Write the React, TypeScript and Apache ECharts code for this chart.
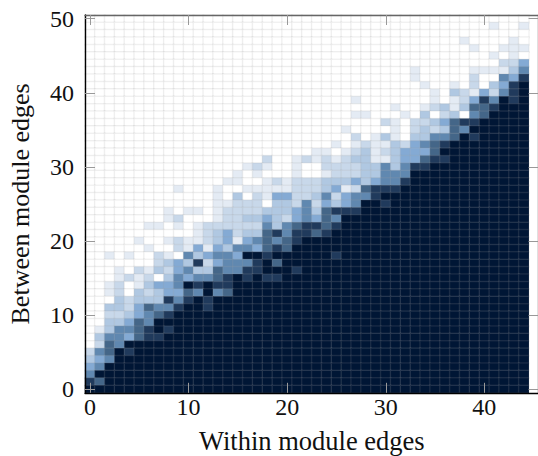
import React, { useEffect, useRef } from "react";
import * as echarts from "echarts";

// Shade level of every cell, first line = y 50, last line = y 0; groups of 5 columns.
const cellRows: string[] = [
  "00000 00000 00000 00000 00000 00000 00000 00000 00000", // 50
  "00000 00000 00000 00000 00000 00000 00000 00000 01001", // 49
  "00000 00000 00000 00000 00000 00000 00000 00000 00000", // 48
  "00000 00000 00000 00000 00000 00000 00000 00010 00010", // 47
  "00000 00000 00000 00000 00000 00000 00000 00001 00111", // 46
  "00000 00000 00000 00000 00000 00000 00000 00000 01010", // 45
  "00000 00000 00000 00000 00000 00000 00000 00000 00224", // 44
  "00000 00000 00000 00000 00000 00000 00010 00001 11135", // 43
  "00000 00000 00000 00000 00000 00000 00010 00002 00547", // 42
  "00000 00000 00000 00000 00000 00000 00001 00102 03478", // 41
  "00000 00000 00000 00000 00000 00000 00000 10321 42578", // 40
  "00000 00000 00000 00000 00000 00100 00000 10124 75878", // 39
  "00000 00000 00000 00000 00000 00000 01001 23136 67888", // 38
  "00000 00000 00000 00000 00000 00110 00103 02305 68888", // 37
  "00000 00000 00000 00000 00000 00000 21022 34677 88888", // 36
  "00000 00000 00000 00000 00000 01000 01023 23658 88888", // 35
  "00000 00000 00000 00000 00000 00201 31033 55687 88888", // 34
  "00000 00000 00000 00000 00000 10121 13245 67888 88888", // 33
  "00000 00000 00000 00000 00011 01231 23444 68888 88888", // 32
  "00000 00000 00000 00020 01212 12331 13446 77888 88888", // 31
  "00000 00000 00000 01210 01002 22233 53577 88888 88888", // 30
  "00000 00000 00000 10100 01001 22233 55588 88888 88888", // 29
  "00000 00000 00001 10012 12223 33434 55788 88888 88888", // 28
  "00000 00001 00010 01111 12223 41267 77888 88888 88888", // 27
  "00000 00000 00010 30214 42235 24557 88888 88888 88888", // 26
  "00000 00000 00011 22203 32524 34588 78888 88888 88888", // 25
  "00000 00010 11012 22233 34536 77788 88888 88888 88888", // 24
  "00000 00012 00012 23343 24546 58888 88888 88888 88888", // 23
  "00000 01101 01222 22253 56776 78888 88888 88888 88888", // 22
  "00000 00000 01234 23367 57767 88888 88888 88888 88888", // 21
  "00000 10012 11234 14565 67888 88888 88888 88888 88888", // 20
  "00000 01002 14143 55467 68888 88888 88888 88888 88888", // 19
  "00101 00210 53455 48878 88888 78888 88888 88888 88888", // 18
  "00000 00234 37245 55786 88888 88888 88888 88888 88888", // 17
  "00010 21324 53365 57788 87888 88888 88888 88888 88888", // 16
  "00012 12035 45567 87877 88888 88888 88888 88888 88888", // 15
  "00120 13445 87877 88888 88888 88888 88888 88888 88888", // 14
  "00120 32344 65856 88888 88888 88888 88888 88888 88888", // 13
  "00032 33375 78788 88888 88888 88888 88888 88888 88888", // 12
  "00332 46557 88788 88888 88888 88888 88888 88888 88888", // 11
  "00223 45678 88888 88888 88888 88888 88888 88888 88888", // 10
  "00334 65888 88888 88888 88888 88888 88888 88888 88888", // 9
  "01355 67878 88888 88888 88888 88888 88888 88888 88888", // 8
  "03554 67788 88888 88888 88888 88888 88888 88888 88888", // 7
  "02658 88888 88888 88888 88888 88888 88888 88888 88888", // 6
  "25687 88888 88888 88888 88888 88888 88888 88888 88888", // 5
  "34588 88888 88888 88888 88888 88888 88888 88888 88888", // 4
  "45888 88888 88888 88888 88888 88888 88888 88888 88888", // 3
  "58888 88888 88888 88888 88888 88888 88888 88888 88888", // 2
  "76888 88888 88888 88888 88888 88888 88888 88888 88888", // 1
  "88888 88888 88888 88888 88888 88888 88888 88888 88888", // 0
];
const shades = ["#ffffff", "#e4ebf4", "#c8d8ea", "#b0c8e2", "#84aad4", "#6088b0", "#446688", "#203a5c", "#001635"];
const xCategories = Array.from({ length: 46 }, (_, i) => String(i));
const yCategories = Array.from({ length: 51 }, (_, i) => String(i));
const xTitle = "Within module edges";
const yTitle = "Between module edges";

const FONT = "'Liberation Serif'";
const isTen = (_: number, v: string) => Number(v) % 10 === 0;

export default function App() {
  const ref = useRef<HTMLDivElement>(null);
  useEffect(() => {
    if (!ref.current) return;
    const chart = echarts.init(ref.current, undefined, { renderer: "svg" });
    const cells: number[][] = [];
    cellRows.forEach((row, i) => {
      const y = 50 - i;
      row.replace(/ /g, "").split("").forEach((d, x) => cells.push([x, y, Number(d)]));
    });
    const tick = () => ({
      show: true,
      inside: true,
      length: 10,
      alignWithLabel: true,
      interval: isTen,
      lineStyle: { color: "#999999", width: 1 },
    });
    chart.setOption({
      animation: false,
      backgroundColor: "#ffffff",
      grid: { left: 85, top: 15, width: 453.6, height: 377.8, containLabel: false, outerBoundsMode: "none" },
      visualMap: { show: false, type: "continuous", min: 0, max: 8, dimension: 2, inRange: { color: shades }, seriesIndex: 0 },
      xAxis: [
        {
          type: "category", data: xCategories, position: "bottom", z: 10,
          axisLine: { show: true, lineStyle: { color: "#000000", width: 1.4 } },
          axisTick: tick(),
          axisLabel: { interval: isTen, margin: 2, fontFamily: FONT, fontSize: 24, color: "#111111" },
          splitLine: { show: false },
          name: xTitle, nameLocation: "middle", nameGap: 35,
          nameTextStyle: { fontFamily: FONT, fontSize: 26.5, color: "#111111" },
        },
        {
          type: "category", data: xCategories, position: "top", z: 10,
          axisLine: { show: true, lineStyle: { color: "#666666", width: 1.4 } },
          axisTick: tick(),
          axisLabel: { show: false },
          splitLine: { show: false },
        },
      ],
      yAxis: [
        {
          type: "category", data: yCategories, position: "left", z: 10,
          axisLine: { show: true, lineStyle: { color: "#000000", width: 1.4 } },
          axisTick: tick(),
          axisLabel: { interval: isTen, margin: 11, fontFamily: FONT, fontSize: 24, color: "#111111" },
          splitLine: { show: false },
          name: yTitle, nameLocation: "middle", nameGap: 52, nameRotate: 90,
          nameTextStyle: { fontFamily: FONT, fontSize: 26, color: "#111111" },
        },
        {
          type: "category", data: yCategories, position: "right", z: 10,
          axisLine: { show: true, lineStyle: { color: "#666666", width: 1.4 } },
          axisTick: tick(),
          axisLabel: { show: false },
          splitLine: { show: false },
        },
      ],
      series: [
        {
          type: "heatmap",
          xAxisIndex: 0,
          yAxisIndex: 0,
          data: cells,
          label: { show: false },
          emphasis: { disabled: true },
          itemStyle: { borderColor: "rgba(163,163,163,0.13)", borderWidth: 1.5 },
        },
      ],
    });
    return () => chart.dispose();
  }, []);
  return <div ref={ref} style={{ position: "absolute", left: 0, top: 0, width: 538, height: 456 }} />;
}
